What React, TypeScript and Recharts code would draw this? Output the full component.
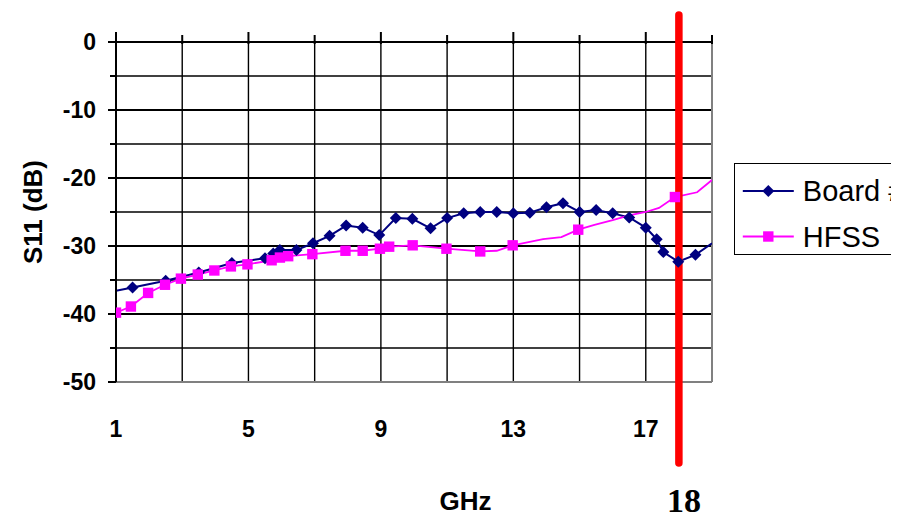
import React from 'react';
import { LineChart, Line, XAxis, YAxis, CartesianGrid, ReferenceLine, Legend } from 'recharts';

// ---- data ----
const seriesNames = ['Board #1', 'HFSS'];

const boardGHz = [1.0, 1.5, 2.5, 3.5, 4.5, 5.5, 5.75, 5.95, 6.45, 6.95, 7.45, 7.95, 8.45, 8.95, 9.45, 9.95, 10.5, 11.0, 11.5, 12.0, 12.5, 13.0, 13.5, 14.0, 14.5, 15.0, 15.5, 16.0, 16.5, 17.0, 17.33, 17.53, 17.98, 18.5, 19.0];
const boardDB = [-36.6, -36.1, -35.1, -33.9, -32.5, -31.8, -31.1, -30.6, -30.6, -29.6, -28.5, -27.0, -27.3, -28.4, -25.9, -26.0, -27.4, -25.9, -25.2, -25.0, -25.0, -25.2, -25.1, -24.3, -23.7, -25.0, -24.7, -25.2, -25.8, -27.3, -29.0, -30.9, -32.3, -31.3, -29.6];
const boardMarked = [false, true, true, true, true, true, true, true, true, true, true, true, true, true, true, true, true, true, true, true, true, true, true, true, true, true, true, true, true, true, true, true, true, true, false];

const hfssGHz = [1.0, 1.45, 1.97, 2.48, 2.96, 3.47, 3.97, 4.47, 4.97, 5.7, 5.95, 6.2, 6.93, 7.93, 8.45, 8.97, 9.25, 9.96, 10.98, 12.0, 12.5, 12.98, 13.9, 14.45, 14.96, 15.45, 16.0, 16.5, 17.0, 17.4, 17.88, 18.55, 19.0];
const hfssDB = [-39.8, -38.9, -36.9, -35.7, -34.8, -34.2, -33.6, -33.0, -32.7, -32.1, -31.7, -31.5, -31.2, -30.7, -30.7, -30.4, -30.1, -29.9, -30.4, -30.8, -30.7, -29.9, -29.0, -28.7, -27.6, -26.9, -26.2, -25.5, -25.0, -24.4, -22.8, -22.1, -20.3];
const hfssMarked = [true, true, true, true, true, true, true, true, true, true, true, true, true, true, true, true, true, true, true, true, false, true, false, false, true, false, false, false, false, false, true, false, false];

const xLabelTicks = [1, 5, 9, 13, 17];
const xGridTicks = [1, 3, 5, 7, 9, 11, 13, 15, 17, 19];
const yTicks = [0, -5, -10, -15, -20, -25, -30, -35, -40, -45, -50];
const yMajor = [0, -10, -20, -30, -40, -50];
const yMinor = [-5, -15, -25, -35, -45];
const xDomain = [1, 19];
const yDomain = [-50, 0];
const cutoffGHz = 18;
const cutoffLabel = '18';
const xTitle = 'GHz';
const yTitle = 'S11 (dB)';

// ---- tables built from the arrays ----
const boardData = boardGHz.map((g, i) => ({ ghz: g, db: boardDB[i], mark: boardMarked[i] }));
const hfssData = hfssGHz.map((g, i) => ({ ghz: g, db: hfssDB[i], mark: hfssMarked[i] }));

const NAVY = '#000080';
const MAGENTA = '#FF00FF';
const SANS = '"Liberation Sans", Arial, Helvetica, sans-serif';
const SERIF = '"Liberation Serif", "Times New Roman", serif';

const diamondPath = (cx: number, cy: number, r: number) =>
  `M${cx},${cy - r}L${cx + r},${cy}L${cx},${cy + r}L${cx - r},${cy}Z`;

const BoardDot = (p: any) => {
  const { cx, cy, payload, index } = p;
  if (!payload || !payload.mark) return <g key={`bd-${index}`} />;
  return <path key={`bd-${index}`} d={diamondPath(cx, cy, 6)} fill={NAVY} />;
};

const HfssDot = (p: any) => {
  const { cx, cy, payload, index } = p;
  if (!payload || !payload.mark) return <g key={`hd-${index}`} />;
  return <rect key={`hd-${index}`} x={cx - 5.2} y={cy - 5.2} width={10.4} height={10.4} fill={MAGENTA} />;
};

const YTick = (p: any) => {
  const { x, y, payload } = p;
  const v = payload.value;
  const major = v % 10 === 0;
  return (
    <g>
      <line x1={major ? x : x + 2} x2={x + 8} y1={y} y2={y} stroke="#000" strokeWidth={2} />
      {major && (
        <text x={x - 12} y={y} dy="0.36em" textAnchor="end" fontFamily={SANS} fontWeight="bold" fontSize={23} fill="#000">
          {v}
        </text>
      )}
    </g>
  );
};

const TopTick = (p: any) => {
  const { x, y, payload } = p;
  const major = (payload.value - 1) % 4 === 0;
  return <line x1={x} x2={x} y1={major ? y : y + 3} y2={y + 12} stroke="#000" strokeWidth={2} />;
};

const XTick = (p: any) => {
  const { x, y, payload } = p;
  return (
    <text x={x} y={y + 55} textAnchor="middle" fontFamily={SANS} fontWeight="bold" fontSize={23} fill="#000">
      {payload.value}
    </text>
  );
};

const CutoffShape = (p: any) => {
  const top = Math.min(p.y1, p.y2);
  const bottom = Math.max(p.y1, p.y2);
  return (
    <g>
      <line x1={p.x1} x2={p.x2} y1={top - 27} y2={bottom + 81} stroke="#FF0000" strokeWidth={7.5} strokeLinecap="round" />
      <text x={p.x1 + 5} y={bottom + 130} textAnchor="middle" fontFamily={SERIF} fontWeight="bold" fontSize={34} fill="#000">
        {cutoffLabel}
      </text>
    </g>
  );
};

const LegendBox = () => (
  <div style={{ width: 200, height: 89.7, border: '1.5px solid #000', background: '#fff' }}>
    <svg width={200} height={90} style={{ display: 'block' }}>
      <line x1={7.8} x2={58.8} y1={26.9} y2={26.9} stroke={NAVY} strokeWidth={2} />
      <path d={diamondPath(33.3, 26.9, 6)} fill={NAVY} />
      <text x={67.8} y={26.9 + 10.4} fontFamily={SANS} fontSize={29} fill="#000">{seriesNames[0]}</text>
      <line x1={7.8} x2={58.8} y1={72.5} y2={72.5} stroke={MAGENTA} strokeWidth={2} />
      <rect x={33.3 - 5.2} y={72.5 - 5.2} width={10.4} height={10.4} fill={MAGENTA} />
      <text x={67.8} y={72.5 + 10.4} fontFamily={SANS} fontSize={29} fill="#000">{seriesNames[1]}</text>
    </svg>
  </div>
);

export default function App() {
  return (
    <div style={{ width: 891, height: 508, overflow: 'hidden', position: 'relative' }}>
      <LineChart width={891} height={508} margin={{ top: 0, right: 187, bottom: 0, left: 0 }}>
        <CartesianGrid xAxisId="b" yAxisId="y" horizontalValues={yMinor} verticalValues={xGridTicks} stroke="#000" strokeWidth={1.4} />
        <CartesianGrid xAxisId="b" yAxisId="y" horizontalValues={yMajor} vertical={false} stroke="#000" strokeWidth={2} />
        <XAxis
          xAxisId="t"
          orientation="top"
          type="number"
          dataKey="ghz"
          domain={xDomain}
          ticks={xGridTicks}
          interval={0}
          height={34}
          tickSize={10}
          tickMargin={0}
          tickLine={false}
          axisLine={false}
          tick={TopTick}
          allowDataOverflow
        />
        <XAxis
          xAxisId="b"
          orientation="bottom"
          type="number"
          dataKey="ghz"
          domain={xDomain}
          ticks={xLabelTicks}
          interval={0}
          height={134}
          tickSize={0}
          tickMargin={0}
          tickLine={false}
          axisLine={false}
          tick={XTick}
          allowDataOverflow
          label={{
            content: (lp: any) => {
              const vb = lp.viewBox || { x: 108, y: 374, width: 596, height: 134 };
              return (
                <text x={vb.x + vb.width / 2 + 51.5} y={vb.y + 128} textAnchor="middle" fontFamily={SANS} fontWeight="bold" fontSize={26} fill="#000">
                  {xTitle}
                </text>
              );
            },
          }}
        />
        <YAxis
          yAxisId="y"
          type="number"
          domain={yDomain}
          ticks={yTicks}
          interval={0}
          width={108}
          tickSize={8}
          tickMargin={0}
          tickLine={false}
          axisLine={{ stroke: '#000', strokeWidth: 2 }}
          tick={YTick}
          allowDataOverflow
          label={{
            content: (lp: any) => {
              const vb = lp.viewBox || { x: 0, y: 34, width: 108, height: 340 };
              const cx = vb.x + 34;
              const cy = vb.y + vb.height / 2;
              return (
                <text transform={`translate(${cx},${cy}) rotate(-90)`} textAnchor="middle" fontFamily={SANS} fontWeight="bold" fontSize={26} fill="#000">
                  {yTitle}
                </text>
              );
            },
          }}
        />
        <ReferenceLine xAxisId="b" yAxisId="y" x={xDomain[1]} stroke="#808080" strokeWidth={2} />
        <ReferenceLine xAxisId="b" yAxisId="y" y={yDomain[0]} stroke="#808080" strokeWidth={2} />
        <ReferenceLine xAxisId="b" yAxisId="y" y={yDomain[1]} stroke="#000" strokeWidth={2} />
        <Line
          xAxisId="b"
          yAxisId="y"
          data={boardData}
          dataKey="db"
          name={seriesNames[0]}
          type="linear"
          stroke={NAVY}
          strokeWidth={2}
          dot={BoardDot}
          activeDot={false}
          isAnimationActive={false}
        />
        <Line
          xAxisId="b"
          yAxisId="y"
          data={hfssData}
          dataKey="db"
          name={seriesNames[1]}
          type="linear"
          stroke={MAGENTA}
          strokeWidth={1.8}
          dot={HfssDot}
          activeDot={false}
          isAnimationActive={false}
        />
        <ReferenceLine xAxisId="b" yAxisId="y" x={cutoffGHz} shape={CutoffShape} />
        <Legend
          layout="horizontal"
          align="center"
          verticalAlign="middle"
          content={LegendBox}
          wrapperStyle={{ left: 725.7, top: 155.3, right: 'auto', bottom: 'auto', width: 'auto', height: 'auto' }}
        />
      </LineChart>
    </div>
  );
}
